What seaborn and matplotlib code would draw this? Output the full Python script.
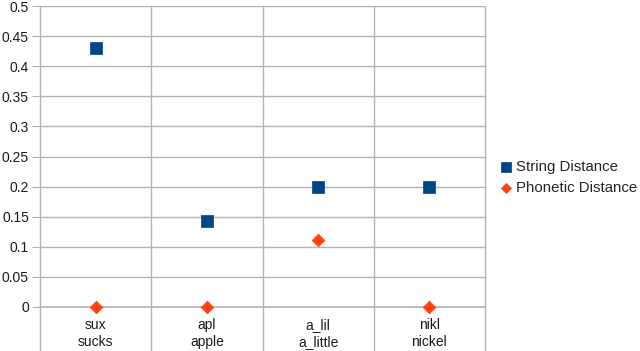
import pandas as pd
import matplotlib
matplotlib.use('Agg')
import matplotlib.pyplot as plt
import seaborn as sns

categories = ['sux\nsucks', 'apl\napple', 'a_lil\na_little', 'nikl\nnickel']
string_distance = [0.43, 0.143, 0.2, 0.2]
phonetic_distance = [0.0, 0.0, 0.111, 0.0]
y_ticks = [0, 0.05, 0.1, 0.15, 0.2, 0.25, 0.3, 0.35, 0.4, 0.45, 0.5]

df = pd.DataFrame({
    'word': categories * 2,
    'value': string_distance + phonetic_distance,
    'series': ['String Distance'] * 4 + ['Phonetic Distance'] * 4,
})

sns.set_style('white')
plt.rcParams['font.family'] = ['Liberation Sans', 'DejaVu Sans']

fig = plt.figure(figsize=(6.4, 3.51), dpi=100)
ax = fig.add_axes([40 / 640, 1 - 307 / 351, 445 / 640, 301 / 351])

palette = {'String Distance': '#004586', 'Phonetic Distance': '#ff420e'}
markers = {'String Distance': 's', 'Phonetic Distance': 'D'}
sizes = {'String Distance': 75, 'Phonetic Distance': 42}
for name in ['String Distance', 'Phonetic Distance']:
    sub = df[df['series'] == name]
    sns.scatterplot(data=sub, x='word', y='value', color=palette[name],
                    marker=markers[name], s=sizes[name], edgecolor=palette[name],
                    linewidth=0.5, label=name, ax=ax, zorder=3, clip_on=False)

ax.set_xlim(-0.5, 3.5)
ax.set_ylim(0, 0.5)
ax.set_yticks(y_ticks)
ax.set_yticklabels([f'{t:g}' for t in y_ticks])
ax.yaxis.grid(True, color='#b3b3b3', linewidth=1)
ax.axhline(0, color='#b3b3b3', linewidth=1.2, clip_on=False, zorder=1)
ax.set_axisbelow(True)
ax.set_xlabel('')
ax.set_ylabel('')
for s in ['top', 'right', 'left', 'bottom']:
    ax.spines[s].set_visible(False)

# category separators running below the axis
ext = -44 / 301
for xv in [-0.5, 0.5, 1.5, 2.5, 3.5]:
    ax.axvline(xv, ymin=ext, ymax=1, color='#b3b3b3', linewidth=1, clip_on=False)

ax.tick_params(axis='y', length=6, color='#b3b3b3', labelsize=10, labelcolor='#1a1a1a', pad=2, left=True)
ax.tick_params(axis='x', length=0, labelsize=10, labelcolor='#1a1a1a', pad=8)
for lbl in ax.get_xticklabels():
    lbl.set_linespacing(1.3)

ax.legend(loc='center left', bbox_to_anchor=(1.018, 0.43), frameon=False,
          fontsize=10.8, handletextpad=0.1, handlelength=1.1, labelspacing=0.45,
          borderaxespad=0, borderpad=0.3, markerscale=0.8)

fig.savefig('out.png', dpi=100)
